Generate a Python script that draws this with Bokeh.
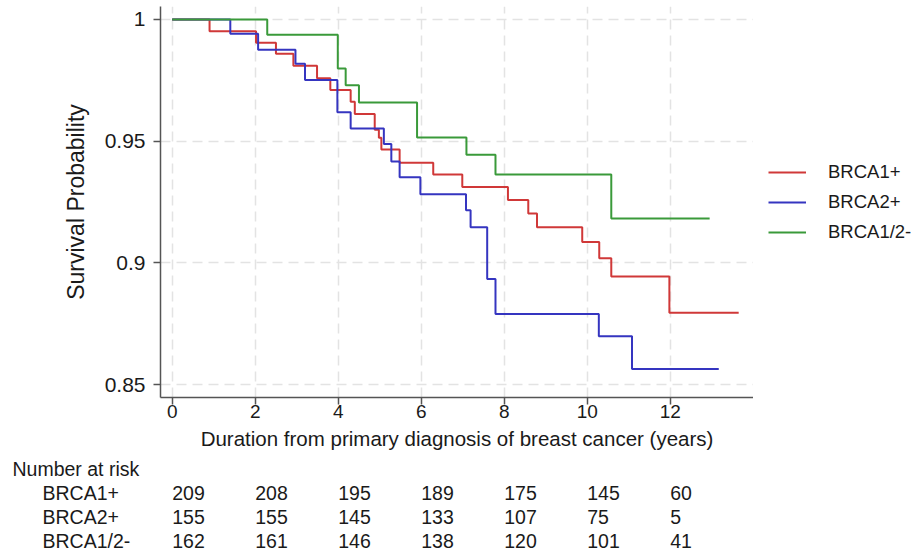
from bokeh.plotting import figure
from bokeh.models import FixedTicker, Legend, LegendItem, Range1d
from bokeh.layouts import row
from bokeh.core.properties import value
from bokeh.embed import file_html
from bokeh.resources import INLINE

# ---------------- data ----------------
groups = ["BRCA1+", "BRCA2+", "BRCA1/2-"]
colors = ["#d03838", "#3535c0", "#3a9a3a"]

brca1_t = [0, 0.90, 2.02, 2.50, 2.92, 3.49, 3.81, 4.30, 4.40, 4.88, 4.98, 5.04, 5.48,
           6.29, 6.99, 8.09, 8.58, 8.79, 9.88, 10.29, 10.58, 11.98]
brca1_s = [1.0, 0.9952, 0.9904, 0.9859, 0.9810, 0.9759, 0.9710, 0.9662, 0.9612, 0.9547,
           0.9514, 0.9466, 0.9411, 0.9363, 0.9312, 0.9258, 0.9203, 0.9146, 0.9086, 0.9019,
           0.8944, 0.8795]
brca1_end = 13.65

brca2_t = [0, 1.40, 2.07, 2.97, 3.20, 3.98, 4.30, 5.10, 5.28, 5.48, 5.98, 7.08, 7.19,
           7.59, 7.79, 10.28, 11.08]
brca2_s = [1.0, 0.9941, 0.9876, 0.9818, 0.9751, 0.9619, 0.9552, 0.9488, 0.9416, 0.9352,
           0.9282, 0.9216, 0.9146, 0.8934, 0.8790, 0.8698, 0.8564]
brca2_end = 13.17

brca12_t = [0, 2.29, 3.99, 4.18, 4.50, 5.90, 7.09, 7.79, 10.58]
brca12_s = [1.0, 0.9937, 0.9799, 0.9730, 0.9659, 0.9515, 0.9444, 0.9363, 0.9182]
brca12_end = 12.95

x_ticks = [0, 2, 4, 6, 8, 10, 12]
y_ticks = [0.85, 0.9, 0.95, 1.0]
y_tick_labels = ["0.85", "0.9", "0.95", "1"]

risk_times = [0, 2, 4, 6, 8, 10, 12]
risk_brca1 = [209, 208, 195, 189, 175, 145, 60]
risk_brca2 = [155, 155, 145, 133, 107, 75, 5]
risk_brca12 = [162, 161, 146, 138, 120, 101, 41]

x_title = "Duration from primary diagnosis of breast cancer (years)"
y_title = "Survival Probability"
risk_title = "Number at risk"

# ---------------- layout constants ----------------
FONT = "Liberation Sans"
TXT = "#1a1a1a"
W = 919
LEFT, RIGHT, TOP = 160, 166, 6
FRAME_H = 391
BOTTOM = 62
H1 = TOP + FRAME_H + BOTTOM
H2 = 553 - H1
X0, X1 = -0.282, 14.007


def clean(fig):
    fig.outline_line_color = None
    fig.background_fill_color = "white"
    fig.border_fill_color = "white"


series = [(brca1_t, brca1_s, brca1_end), (brca2_t, brca2_s, brca2_end),
          (brca12_t, brca12_s, brca12_end)]

# ---------------- main figure ----------------
p = figure(width=W - RIGHT, height=H1, x_range=Range1d(X0, X1),
           y_range=Range1d(0.84466, 1.00534), output_backend="svg",
           toolbar_location=None, min_border_left=LEFT, min_border_right=0,
           min_border_top=TOP, min_border_bottom=BOTTOM)
clean(p)

for (t, s, end), c in zip(series, colors):
    p.step(x=list(t) + [end], y=list(s) + [s[-1]], mode="after",
           line_color=c, line_width=2)

p.xaxis.ticker = FixedTicker(ticks=x_ticks)
p.yaxis.ticker = FixedTicker(ticks=y_ticks)
p.yaxis.major_label_overrides = dict(zip(y_ticks, y_tick_labels))
for ax in (p.xaxis, p.yaxis):
    ax.minor_tick_line_color = None
    ax.major_tick_in = 0
    ax.major_tick_out = 7
    ax.axis_line_color = "#555555"
    ax.axis_line_width = 1.5
    ax.major_tick_line_color = "#555555"
    ax.major_tick_line_width = 1.5
    ax.major_label_text_font = FONT
    ax.major_label_text_color = TXT
    ax.axis_label_text_font = FONT
    ax.axis_label_text_font_style = "normal"
    ax.axis_label_text_color = TXT
p.xaxis.major_label_text_font_size = "19px"
p.yaxis.major_label_text_font_size = "21px"
p.xaxis.axis_label_text_font_size = "20.5px"
p.yaxis.axis_label_text_font_size = "23px"
p.xaxis.axis_label = x_title
p.yaxis.axis_label = y_title
p.xaxis.major_label_standoff = 0
p.xaxis.axis_label_standoff = 6
p.yaxis.major_label_standoff = 8
p.yaxis.axis_label_standoff = 13

for g in (p.xgrid, p.ygrid):
    g.grid_line_color = "#e3e3e3"
    g.grid_line_width = 1.5
    g.grid_line_dash = "10 6"
p.xgrid.ticker = FixedTicker(ticks=x_ticks)
p.ygrid.ticker = FixedTicker(ticks=y_ticks)

# ---------------- legend panel (to the right of the plot) ----------------
lg = figure(width=RIGHT, height=H1, x_range=Range1d(0, 1), y_range=Range1d(0, 1),
            output_backend="svg", toolbar_location=None, min_border_left=0,
            min_border_right=0, min_border_top=TOP, min_border_bottom=BOTTOM,
            x_axis_type=None, y_axis_type=None)
clean(lg)
lg.xgrid.visible = False
lg.ygrid.visible = False
# hidden copies of the curves, used only as legend keys
keys = [lg.step(x=list(t) + [end], y=list(s) + [s[-1]], mode="after",
                line_color=c, line_width=2, visible=False)
        for (t, s, end), c in zip(series, colors)]
legend = Legend(items=[LegendItem(label=g, renderers=[k]) for g, k in zip(groups, keys)],
                location="center_left", orientation="vertical")
legend.margin = 15
legend.padding = 0
legend.spacing = 8
legend.glyph_width = 38
legend.glyph_height = 20
legend.label_height = 20
legend.label_standoff = 22
legend.label_text_font = FONT
legend.label_text_font_size = "18.5px"
legend.label_text_color = TXT
legend.border_line_color = None
legend.background_fill_alpha = 0
legend.inactive_fill_alpha = 0
lg.add_layout(legend)

# ---------------- number-at-risk table (full-width strip) ----------------
scale = (W - LEFT - RIGHT) / (X1 - X0)          # px per year
T0 = X0 - LEFT / scale
T1 = X1 + RIGHT / scale
q = figure(width=W, height=H2, x_range=Range1d(T0, T1), y_range=Range1d(H2, 0),
           output_backend="svg", toolbar_location=None, min_border=0,
           x_axis_type=None, y_axis_type=None)
clean(q)
q.xgrid.visible = False
q.ygrid.visible = False

row_y = [33, 57, 81]          # px from the top of the table strip
tx, ty, tt = [], [], []
for yy, counts in zip(row_y, [risk_brca1, risk_brca2, risk_brca12]):
    for t, n in zip(risk_times, counts):
        tx.append(t)
        ty.append(yy)
        tt.append(str(n))
q.text(x=tx, y=ty, text=tt, text_align="left", text_baseline="middle",
       text_font=value(FONT), text_font_size="19.5px", text_color=TXT)

lab_x = [T0 + 12 / scale] + [T0 + 42 / scale] * 3
q.text(x=lab_x, y=[9] + row_y, text=[risk_title] + groups, text_align="left",
       text_baseline="middle", text_font=value(FONT), text_font_size="19.5px",
       text_color=TXT)

open("out.html", "w").write(file_html((row(p, lg), q), INLINE))
